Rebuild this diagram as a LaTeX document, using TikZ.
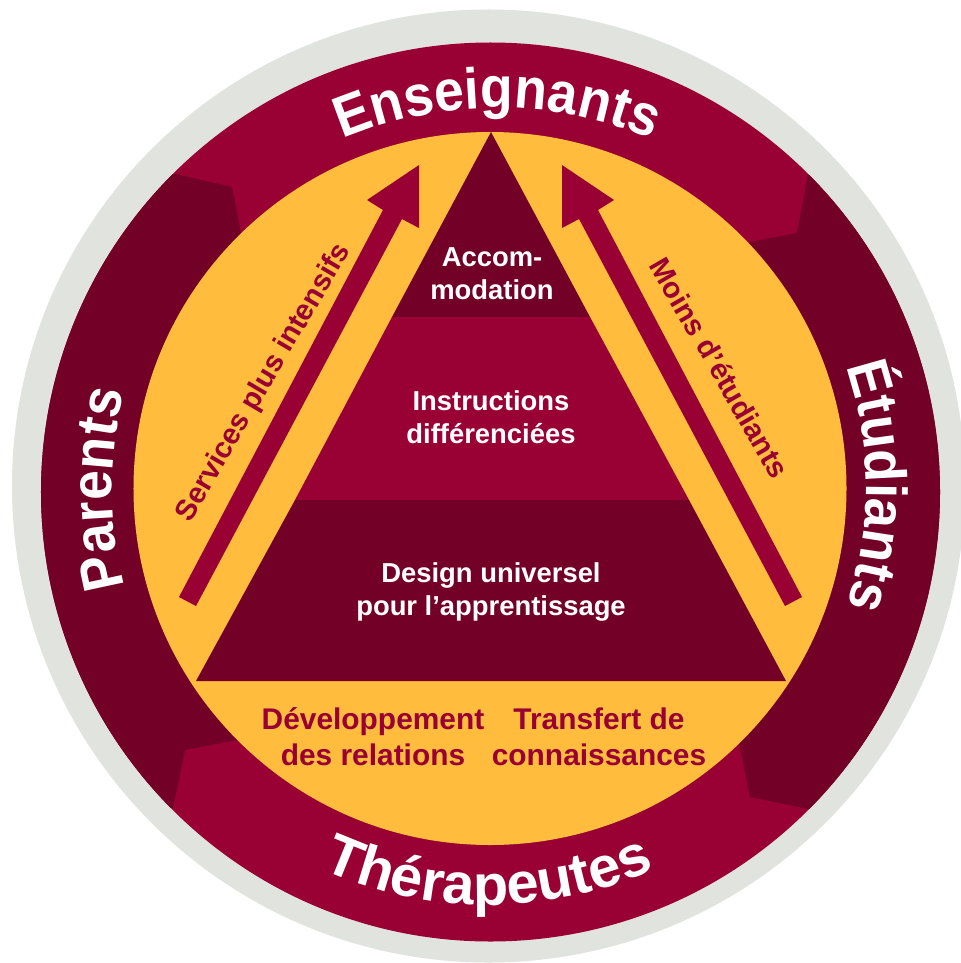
\documentclass[tikz,border=0pt]{standalone}
\usepackage{fontspec}
\setmainfont{Liberation Sans}
\newfontfamily\tightfam[FakeStretch=0.925]{Liberation Sans}
\usetikzlibrary{decorations.text}
\definecolor{darkred}{HTML}{730026}
\definecolor{midred}{HTML}{990033}
\definecolor{gold}{HTML}{FFBC3D}
\definecolor{ringgrey}{HTML}{E1E3DE}
\tikzset{
  lbl/.style={font=\bfseries\fontsize{27.5}{33.5}\selectfont,align=center,inner sep=0pt},
  whitelbl/.style={lbl,text=white},
  redlbl/.style={lbl,text=midred,font=\bfseries\fontsize{30}{36}\selectfont},
  slantlbl/.style={lbl,text=midred,font=\bfseries\fontsize{29.3}{36}\selectfont},
  bigtext/.style={decorate,decoration={text along path,text align=center,
    text={|\tightfam\bfseries\fontsize{58}{58}\selectfont\color{white}|#1}}},
  widetext/.style={decorate,decoration={text along path,text align=center,
    text={|\bfseries\fontsize{58}{58}\selectfont\color{white}|#1}}}
}
\begin{document}
\begin{tikzpicture}[x=1bp,y=1bp]
\useasboundingbox (0,0) rectangle (961,-963);
\clip (0,0) rectangle (961,-963);
\fill[ringgrey] (488.5,-486) circle (476.5bp);
\fill[midred] (490.5,-492) circle (449.5bp);
\begin{scope}
  \clip (490.5,-492) circle (449.5bp);
  \fill[darkred] (175,-174) -- (232,-187) -- (241,-233) -- (300,-490) -- (237,-740) -- (185,-750) -- (173,-808) -- (0,-808) -- (0,-174) -- cycle;
  \fill[darkred] (808,-175) -- (797,-233) -- (750,-242) -- (690,-490) -- (740,-747) -- (750,-797) -- (808,-809) -- (961,-809) -- (961,-175) -- cycle;
\end{scope}
\fill[gold] (490,-488.5) circle (356.5bp);
% pyramid
\fill[darkred] (491,-132) -- (392,-317) -- (590,-317) -- cycle;
\fill[midred] (392,-317) -- (590,-317) -- (689,-500) -- (295,-500) -- cycle;
\fill[darkred] (295,-500) -- (689,-500) -- (786,-681) -- (196,-681) -- cycle;
% arrows
\fill[midred] (179,-597) -- (383,-210) -- (367,-200) -- (419,-165) -- (419,-228) -- (402,-219) -- (196,-606) -- cycle;
\fill[midred] (802,-597) -- (598,-210) -- (614,-200) -- (562,-165) -- (562,-228) -- (579,-219) -- (785,-606) -- cycle;
% labels
\node[whitelbl] (accom) at (492,-274) {Accom-\\modation};
\node[whitelbl] (instr) at (491,-417) {Instructions\\différenciées};
\node[whitelbl] (design) at (491,-592) {Design universel\\pour l’apprentissage};
\node[redlbl] (dev) at (373,-737) {Développement\\des relations};
\node[redlbl] (transf) at (599,-737) {Transfert de\\connaissances};
\node[slantlbl,rotate=59.5] (serv) at (264,-383) {Services plus intensifs};
\node[slantlbl,rotate=-60] (moins) at (720,-368) {Moins d’étudiants};
% ring text
\path[bigtext=Enseignants] (497,-505) ++(150:397bp) arc (150:30:397bp);
\path[widetext=Thérapeutes] (488,-505) ++(210:400bp) arc (210:330:400bp);
\path[bigtext=Parents] (490,-489) ++(210:378bp) arc (210:150:378bp);
\path[bigtext=Étudiants] (490,-486) ++(35:376bp) arc (35:-35:376bp);
\end{tikzpicture}
\end{document}
